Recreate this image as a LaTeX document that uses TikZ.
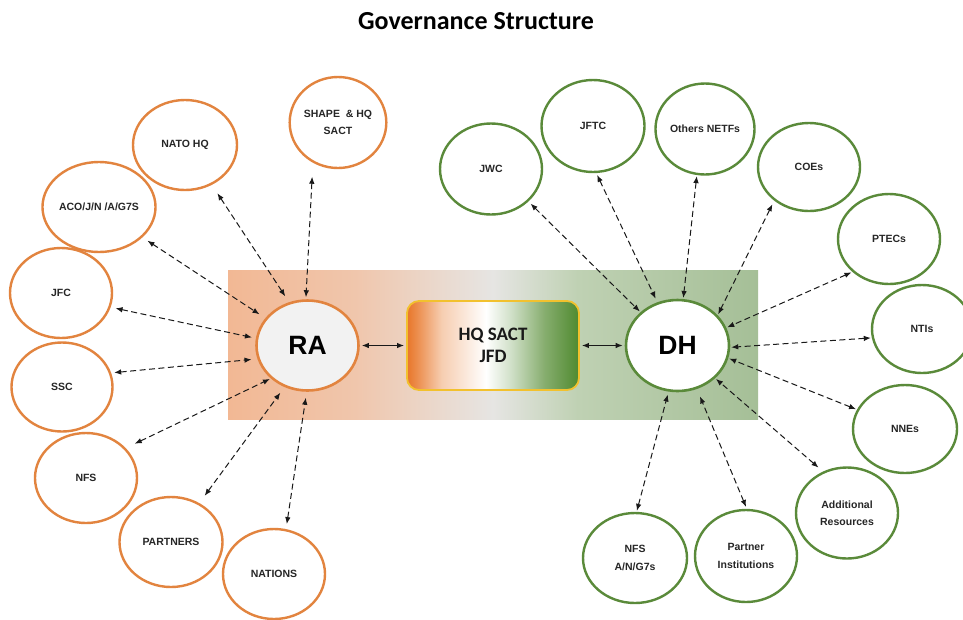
\documentclass[tikz,border=0pt]{standalone}
\usepackage{fontspec}
\setmainfont{Liberation Sans}
\newfontfamily\calibfont{Carlito}
\usetikzlibrary{shapes.geometric,arrows.meta}
\definecolor{orn}{HTML}{E2843F}
\definecolor{grn}{HTML}{5A8A3A}
\definecolor{txt}{HTML}{262626}
\definecolor{boxedge}{HTML}{F2C12E}
\definecolor{bgA}{HTML}{F2B894}
\definecolor{bgB}{HTML}{F0C6AC}
\definecolor{bgC}{HTML}{E6E5E3}
\definecolor{bgD}{HTML}{BFD1B3}
\definecolor{bgE}{HTML}{A5BF97}
\definecolor{bxA}{HTML}{E8762A}
\definecolor{bxB}{HTML}{EC8E4E}
\definecolor{bxC}{HTML}{F6CDB0}
\definecolor{bxD}{HTML}{FFFFFF}
\definecolor{bxE}{HTML}{D2E1CA}
\definecolor{bxF}{HTML}{86AD6E}
\definecolor{bxG}{HTML}{4F8A2F}
\pgfdeclarehorizontalshading{bgshade}{100bp}{color(0bp)=(bgA); color(25bp)=(bgA); color(37bp)=(bgB); color(50bp)=(bgC); color(58bp)=(bgD); color(75bp)=(bgE); color(100bp)=(bgE)}
\pgfdeclarehorizontalshading{boxshade}{100bp}{color(0bp)=(bxA); color(25bp)=(bxA); color(28bp)=(bxB); color(35bp)=(bxC); color(48bp)=(bxD); color(55bp)=(bxE); color(65bp)=(bxF); color(75bp)=(bxG); color(100bp)=(bxG)}
\newcommand\lblfont{\fontsize{10.5}{17.5}\selectfont\bfseries}
\tikzset{
  onode/.style={ellipse, draw=orn, line width=2.4pt, fill=white, inner sep=0pt, align=center, text=txt, font=\lblfont, minimum width=102pt, minimum height=90pt},
  gnode/.style={ellipse, draw=grn, line width=2.4pt, fill=white, inner sep=0pt, align=center, text=txt, font=\lblfont, minimum width=102pt, minimum height=90pt},
  conn/.style={dash pattern=on 6pt off 3.5pt, line width=1pt, draw=black!90, {Latex[length=7pt,width=5.5pt]}-{Latex[length=7pt,width=5.5pt]}},
  solidconn/.style={line width=1.1pt, draw=black!90, {Latex[length=7pt,width=5.5pt]}-{Latex[length=7pt,width=5.5pt]}},
  hub/.style={ellipse, line width=2.6pt, inner sep=0pt, text=black, font=\fontsize{26.5}{30}\selectfont\bfseries, minimum width=102pt, minimum height=90pt}
}
\begin{document}
\begin{tikzpicture}[x=1pt,y=-1pt]
\clip (0,0) rectangle (963,619);
\fill[white] (0,0) rectangle (963,619);
% title
\node[anchor=base, text=black, font=\calibfont\bfseries\fontsize{26}{30}\selectfont] (title) at (476,29) {Governance Structure};
% background band
\path[shading=bgshade] (228,270) rectangle (758,419);
% hubs
\node[hub, draw=orn, fill=black!5] (ra) at (307.5,345.5) {RA};
\node[hub, draw=grn, fill=white, minimum width=103pt, minimum height=91pt] (dh) at (677.5,345.5) {DH};
\node[rounded corners=12pt, draw=boxedge, line width=1.8pt, shading=boxshade, minimum width=172pt, minimum height=89pt, align=center, text=black!90, font=\calibfont\bfseries\fontsize{19}{22}\selectfont] (hq) at (493,345.5) {HQ SACT\\JFD};
% left nodes
\node[onode, minimum width=90pt, minimum height=91pt] (shape) at (338,122.5) {SHAPE\hspace{3pt} \& HQ\\SACT};
\node[onode, minimum width=104pt] (natohq) at (185,145) {NATO HQ};
\node[onode] (aco) at (99,207) {ACO/J/N /A/G7S};
\node[onode] (jfc) at (61,293) {JFC};
\node[onode, minimum width=101pt, minimum height=89pt] (ssc) at (62,387) {SSC};
\node[onode] (nfs) at (86,478) {NFS};
\node[onode, minimum width=103pt] (partners) at (171,542) {PARTNERS};
\node[onode] (nations) at (274,574) {NATIONS};
% right nodes
\node[gnode, minimum height=91pt] (jwc) at (491,169) {JWC};
\node[gnode, minimum width=103pt, minimum height=92pt] (jftc) at (593,126) {JFTC};
\node[gnode, minimum width=90pt, minimum height=91pt] (others) at (705,129) {Others NETFs};
\node[gnode, minimum height=88pt] (coes) at (809,167) {COEs};
\node[gnode] (ptecs) at (889,239) {PTECs};
\node[gnode, minimum width=100pt, minimum height=88pt] (ntis) at (922,329) {NTIs};
\node[gnode, minimum width=104pt, minimum height=88pt] (nnes) at (905,429) {NNEs};
\node[gnode, minimum height=91pt] (addl) at (847,513) {Additional\\Resources};
\node[gnode, minimum height=92pt] (pinst) at (746,556) {Partner\\Institutions};
\node[gnode, minimum width=104pt] (nfsb) at (635,558) {NFS\\A/N/G7s};
% connectors left
\draw[conn, shorten <=14pt, shorten >=2pt] (shape.238) -- (ra.92);
\draw[conn, shorten <=10pt, shorten >=7pt] (natohq.304) -- (ra.113);
\draw[conn, shorten <=6pt, shorten >=7pt] (aco.325) -- (ra.147);
\draw[conn, shorten <=5pt, shorten >=4pt] (jfc.344) -- (ra.172);
\draw[conn, shorten <=3pt, shorten >=6pt] (ssc.16) -- (ra.195);
\draw[conn, shorten <=10pt, shorten >=1pt] (nfs.37) -- (ra.222);
\draw[conn, shorten <=9pt, shorten >=7pt] (partners.54) -- (ra.241);
\draw[conn, shorten <=5pt, shorten >=6pt] (nations.75) -- (ra.269);
% connectors right
\draw[conn, shorten <=3pt, shorten >=1pt] (jwc.319) -- (dh.138);
\draw[conn, shorten <=2pt, shorten >=4pt] (jftc.274) -- (dh.115);
\draw[conn, shorten <=1pt, shorten >=1pt] (others.260) -- (dh.83);
\draw[conn, shorten <=4pt, shorten >=1pt] (coes.224) -- (dh.37);
\draw[conn, shorten <=1pt, shorten >=1pt] (ptecs.222) -- (dh.20);
\draw[conn, shorten <=1pt, shorten >=1pt] (ntis.190) -- (dh.358);
\draw[conn, shorten <=1pt, shorten >=1pt] (nnes.158) -- (dh.346);
\draw[conn, shorten <=6pt, shorten >=1pt] (addl.120) -- (dh.319);
\draw[conn, shorten <=2pt, shorten >=8pt] (pinst.89) -- (dh.294);
\draw[conn, shorten <=1pt, shorten >=3pt] (nfsb.88) -- (dh.259);
% central connectors
\draw[solidconn, shorten <=2pt, shorten >=2pt] (ra.east) -- (hq.west);
\draw[solidconn, shorten <=2pt, shorten >=2pt] (hq.east) -- (dh.west);
\end{tikzpicture}
\end{document}
